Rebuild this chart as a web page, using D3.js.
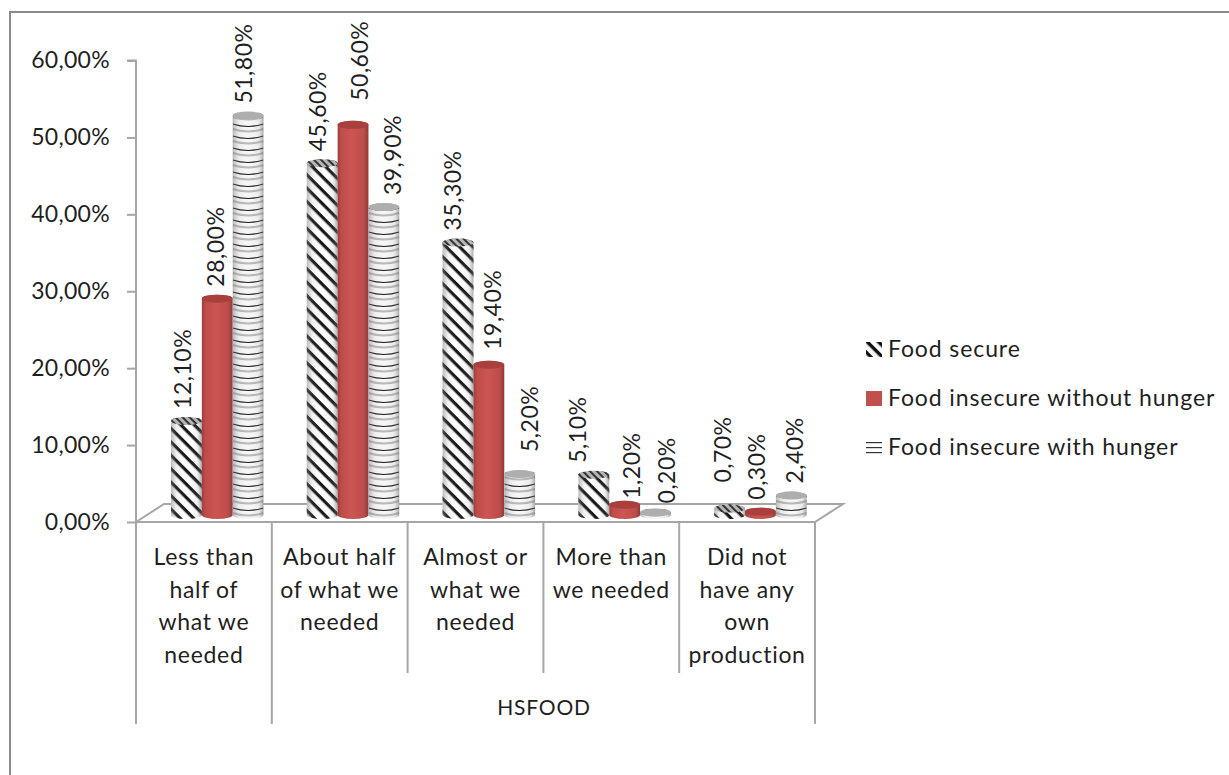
<!DOCTYPE html>
<html>
<head>
<meta charset="utf-8">
<script src="https://d3js.org/d3.v7.min.js"></script>
<style>
    html, body { margin: 0; padding: 0; background: #fff; }
    svg { display: block; }
    text { font-family: Lato, "Open Sans", sans-serif; fill: #1f1f1f; }
</style>
</head>
<body>
<div id="chart"></div>
<script>
// data
const categories = [
    ["Less than", "half of", "what we", "needed"],
    ["About half", "of what we", "needed"],
    ["Almost or", "what we", "needed"],
    ["More than", "we needed"],
    ["Did not", "have any", "own", "production"]
];
const seriesNames = ["Food secure", "Food insecure without hunger", "Food insecure with hunger"];
const foodSecure = [12.1, 45.6, 35.3, 5.1, 0.7];
const insecureNoHunger = [28.0, 50.6, 19.4, 1.2, 0.3];
const insecureHunger = [51.8, 39.9, 5.2, 0.2, 2.4];
const yTicks = [0, 10, 20, 30, 40, 50, 60];
const axisTitle = "HSFOOD";

// nudge of each data label, the original labels were not all centred
const labelNudgeX = [
    [-2, 0, -3],
    [-3, 8, 10],
    [-4, 5, 11],
    [-15, 8, 13],
    [-6, -2, 5]
];
const labelNudgeY = [
    [0, 0, 0],
    [0, 12, 0],
    [0, 3, 10],
    [0, -6, -3],
    [14, 0, 0]
];

const width = 1229;
const height = 775;
const margin = {top: 60.5, left: 136, right: 414, bottom: 253};
const floorDepth = {x: 28, y: 18};
const baseLift = 8;
const ry = 4;

const svg = d3.select("#chart")
    .append("svg")
    .attr("width", width)
    .attr("height", height);

const fmt = v => v.toFixed(2).replace(".", ",") + "%";

const xScale = d3.scaleBand()
    .domain(d3.range(categories.length))
    .range([margin.left, width - margin.right]);

const seriesScale = d3.scaleBand()
    .domain(d3.range(seriesNames.length))
    .range([35, 127.5]);

const yScale = d3.scaleLinear()
    .domain([0, 60])
    .range([height - margin.bottom, margin.top]);

const defs = svg.append("defs");

// left to right shading of a cylinder
function shade(id, stops) {
    const g = defs.append("linearGradient").attr("id", id);
    stops.forEach(function(s) {
        g.append("stop").attr("offset", s[0]).attr("stop-color", s[1]).attr("stop-opacity", s[2]);
    });
}
shade("redBody", [[0, "#9c3f3c", 1], [0.12, "#bd4d4a", 1], [0.45, "#cc5552", 1], [0.85, "#bd4d4a", 1], [1, "#8e3a37", 1]]);
shade("sheen", [[0, "#777", 0.5], [0.18, "#888", 0.12], [0.5, "#fff", 0], [0.85, "#888", 0.12], [1, "#666", 0.55]]);

defs.append("filter")
    .attr("id", "soft")
    .append("feGaussianBlur")
    .attr("stdDeviation", 0.6);

const diag = defs.append("pattern")
    .attr("id", "diag")
    .attr("patternUnits", "userSpaceOnUse")
    .attr("width", 9.5)
    .attr("height", 9.5)
    .attr("patternTransform", "rotate(45)");
diag.append("rect").attr("width", 9.5).attr("height", 9.5).attr("fill", "#fff");
diag.append("rect").attr("width", 9.5).attr("height", 3.2).attr("fill", "#151515");

const capDiag = defs.append("pattern")
    .attr("id", "capDiag")
    .attr("patternUnits", "userSpaceOnUse")
    .attr("width", 5)
    .attr("height", 5)
    .attr("patternTransform", "rotate(45)");
capDiag.append("rect").attr("width", 5).attr("height", 5).attr("fill", "#b5b5b5");
capDiag.append("rect").attr("width", 5).attr("height", 2).attr("fill", "#333");

const legendDiag = defs.append("pattern")
    .attr("id", "diagSmall")
    .attr("patternUnits", "userSpaceOnUse")
    .attr("width", 8)
    .attr("height", 8)
    .attr("patternTransform", "rotate(45)");
legendDiag.append("rect").attr("width", 8).attr("height", 8).attr("fill", "#fff");
legendDiag.append("rect").attr("width", 8).attr("height", 3.4).attr("fill", "#111");

const legendBands = defs.append("pattern")
    .attr("id", "bandsSmall")
    .attr("patternUnits", "userSpaceOnUse")
    .attr("width", 5)
    .attr("height", 5);
legendBands.append("rect").attr("width", 5).attr("height", 5).attr("fill", "#fff");
legendBands.append("rect").attr("y", 0).attr("width", 5).attr("height", 1.2).attr("fill", "#333");

const topFills = ["url(#capDiag)", "#a8403d", "#aeaeae"];

// outer chart border
svg.append("path")
    .attr("d", `M10,${height} V12 H${width}`)
    .attr("fill", "none")
    .attr("stroke", "#8a8a8a")
    .attr("stroke-width", 2);

const gridColor = "#a6a6a6";
const y0 = yScale(0);
const xEnd = width - margin.right;

// floor of the 3d plot
svg.append("path")
    .attr("d", `M${margin.left},${y0} L${margin.left + floorDepth.x},${y0 - floorDepth.y} H${xEnd + floorDepth.x} L${xEnd},${y0} Z`)
    .attr("fill", "none")
    .attr("stroke", gridColor)
    .attr("stroke-width", 2);

// y axis
const yAxis = svg.append("g")
    .attr("transform", `translate(${margin.left},0)`)
    .call(d3.axisLeft(yScale).tickValues(yTicks).tickFormat(fmt).tickSize(9).tickPadding(17));
yAxis.selectAll("path, line").attr("stroke", gridColor).attr("stroke-width", 2);
yAxis.select(".domain").attr("d", `M-9,${yScale(60)} H0 V${y0}`);
yAxis.selectAll("text").attr("font-size", 23).attr("letter-spacing", 0.3).style("fill", "#1f1f1f");

// multi level category separators
const sepTall = height - 51;
const sepShort = height - 102;
xScale.domain().concat(categories.length).forEach(function(i) {
    const x = i === categories.length ? xEnd : xScale(i);
    const tall = i === 0 || i === 1 || i === categories.length;
    svg.append("line")
        .attr("x1", x).attr("x2", x)
        .attr("y1", y0).attr("y2", tall ? sepTall : sepShort)
        .attr("stroke", gridColor)
        .attr("stroke-width", 2);
});

categories.forEach(function(lines, i) {
    lines.forEach(function(line, j) {
        svg.append("text")
            .attr("x", xScale(i) + xScale.bandwidth() / 2)
            .attr("y", 565 + j * 32.5)
            .attr("text-anchor", "middle")
            .attr("font-size", 23)
            .attr("letter-spacing", 0.7)
            .text(line);
    });
});

svg.append("text")
    .attr("x", 544)
    .attr("y", 715)
    .attr("text-anchor", "middle")
    .attr("font-size", 21)
    .attr("letter-spacing", 0.8)
    .text(axisTitle);

// one cylinder, flat sides with an ellipse top and bottom
function cylinderPath(x0, x1, top, bottom) {
    const rx = (x1 - x0) / 2;
    return `M${x0},${top} V${bottom} A${rx},${ry} 0 0 0 ${x1},${bottom} V${top} A${rx},${ry} 0 0 0 ${x0},${top} Z`;
}

// curved rings round the third series
function addRings(g, clipId, x0, x1, top, bottom) {
    const rings = g.append("g").attr("clip-path", `url(#${clipId})`);
    rings.append("rect")
        .attr("x", x0).attr("y", top - ry)
        .attr("width", x1 - x0).attr("height", bottom - top + 2 * ry)
        .attr("fill", "#f6f6f6");
    for (let y = bottom + ry; y > top - 12; y -= 12) {
        rings.append("path")
            .attr("d", `M${x0},${y - 6} Q${(x0 + x1) / 2},${y - 6 + 5} ${x1},${y - 6}`)
            .attr("fill", "none")
            .attr("stroke", "#b8b8b8")
            .attr("stroke-width", 2.2);
        rings.append("path")
            .attr("d", `M${x0},${y - 11} Q${(x0 + x1) / 2},${y - 11 + 5} ${x1},${y - 11}`)
            .attr("fill", "none")
            .attr("stroke", "#1c1c1c")
            .attr("stroke-width", 1.2);
    }
}

const allSeries = [foodSecure, insecureNoHunger, insecureHunger];

categories.forEach(function(c, i) {
    allSeries.forEach(function(values, s) {
        const v = values[i];
        const x0 = xScale(i) + seriesScale(s);
        const x1 = x0 + seriesScale.bandwidth();
        const cx = (x0 + x1) / 2;
        const rx = (x1 - x0) / 2;
        const bottom = y0 - baseLift + 1;
        const top = yScale(v) - baseLift;
        const d = cylinderPath(x0, x1, top, bottom);

        const bar = svg.append("g");
        if (s !== 1) bar.attr("filter", "url(#soft)");

        if (s === 0) {
            bar.append("path").attr("d", d).attr("fill", "url(#diag)");
        } else if (s === 1) {
            bar.append("path").attr("d", d).attr("fill", "url(#redBody)");
        } else {
            const clipId = `clip-${i}-${s}`;
            defs.append("clipPath").attr("id", clipId).append("path").attr("d", d);
            addRings(bar, clipId, x0, x1, top, bottom);
        }
        if (s !== 1) {
            bar.append("path").attr("d", d).attr("fill", "url(#sheen)");
        }
        bar.append("ellipse")
            .attr("cx", cx)
            .attr("cy", top)
            .attr("rx", rx)
            .attr("ry", ry)
            .attr("fill", topFills[s]);

        svg.append("text")
            .attr("transform", `translate(${cx + labelNudgeX[i][s] + 7},${top - 12 - labelNudgeY[i][s]}) rotate(-90)`)
            .attr("font-size", 23)
            .attr("letter-spacing", 0.5)
            .text(fmt(v));
    });
});

// legend
const legendY = [349, 398, 447];
const legendX = 888;
const legend = svg.selectAll(".legend")
    .data(seriesNames)
    .enter()
    .append("g")
    .attr("class", "legend")
    .attr("transform", function(d, i) { return `translate(${legendX},${legendY[i]})`; });
legend.append("rect")
    .attr("x", -22)
    .attr("y", -7)
    .attr("width", 16)
    .attr("height", 15)
    .attr("fill", function(d, i) { return ["url(#diagSmall)", "#c0504d", "url(#bandsSmall)"][i]; });
legend.append("text")
    .attr("y", 8)
    .attr("font-size", 23)
    .attr("letter-spacing", 0.9)
    .text(function(d) { return d; });
</script>
</body>
</html>
